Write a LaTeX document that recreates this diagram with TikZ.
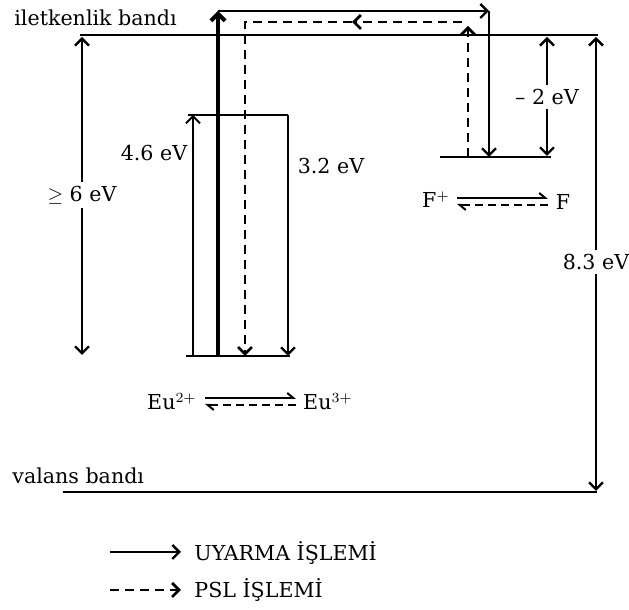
\documentclass[tikz,border=0pt]{standalone}
\usepackage{fontspec}
\setmainfont{DejaVu Serif}
\usetikzlibrary{arrows.meta,calc}

\begin{document}
\begin{tikzpicture}[x=0.5pt,y=-0.5pt,>={Straight Barb[length=3.5pt,width=7pt]},
		band/.style={line width=1.2pt},
		lvl/.style={line width=1.2pt},
		exc/.style={->,line width=1.2pt},
		psl/.style={->,line width=1.4pt,dash pattern=on 4.5pt off 3pt},
		lbl/.style={font=\fontsize{10.3}{12}\selectfont,inner sep=1pt},
		gap/.style={lbl,fill=white,inner sep=2pt},
		harp/.style={line width=1pt,-{Straight Barb[left,length=3pt,width=5pt]}}]
		\useasboundingbox (0,0) rectangle (629,610);
		% bands
		\coordinate (cbL) at (80,35);   \coordinate (cbR) at (598,35);
		\coordinate (vbL) at (63,492);  \coordinate (vbR) at (597,492);
		\draw[band] (cbL) -- (cbR);
		\draw[band] (vbL) -- (vbR);
		\node[lbl,anchor=west] (cbtxt) at (12,18) {iletkenlik bandı};
		\node[lbl,anchor=west] (vbtxt) at (10,476) {valans bandı};
		% Eu levels
		\coordinate (euTL) at (188,115); \coordinate (euTR) at (288,115);
		\coordinate (euBL) at (186,356); \coordinate (euBR) at (290,356);
		\draw[lvl] (euTL) -- (euTR);
		\draw[lvl] (euBL) -- (euBR);
		% F level
		\coordinate (fL) at (440,157); \coordinate (fR) at (551,157);
		\draw[lvl] (fL) -- (fR);
		% excitation
		\coordinate (a0) at (193,356); \coordinate (a1) at (193,115);
		\draw[exc,line width=0.9pt] (a0) -- (a1);
		\node[lbl] (e46) at (154,153) {4.6 eV};
		\coordinate (u0) at (218,356); \coordinate (u1) at (218,11);
		\coordinate (u2) at (489,11);  \coordinate (u3) at (489,157);
		\draw[exc,line width=2pt] (u0) -- (u1);
		\draw[exc] (u1) -- (u2);
		\draw[exc] (u2) -- (u3);
		\coordinate (r0) at (288,115); \coordinate (r1) at (288,356);
		\draw[exc] (r0) -- (r1);
		\node[lbl] (e32) at (331,166) {3.2 eV};
		% PSL
		\coordinate (p0) at (468,157); \coordinate (p1) at (468,26);
		\coordinate (p2) at (462,22);  \coordinate (p3) at (245,22);
		\coordinate (p4) at (245,356); \coordinate (pm) at (352,22);
		\draw[psl] (p0) -- (p1);
		\draw[psl] (p2) -- (pm);
		\draw[psl] (pm) -- (p3) -- (p4);
		% gaps
		\coordinate (g6a) at (82,37);  \coordinate (g6b) at (82,355);
		\node[gap] (e6) at (82,195) {$\geq$ 6 eV};
		\draw[->,line width=1.2pt] (e6) -- (g6a);
		\draw[->,line width=1.2pt] (e6) -- (g6b);
		\coordinate (g2a) at (547,37); \coordinate (g2b) at (547,156);
		\node[gap] (e2) at (547,97) {-- 2 eV};
		\draw[->,line width=1.2pt] (e2) -- (g2a);
		\draw[->,line width=1.2pt] (e2) -- (g2b);
		\coordinate (g8a) at (596,37); \coordinate (g8b) at (596,491);
		\node[gap] (e83) at (596,262) {8.3 eV};
		\draw[->,line width=1.2pt] (e83) -- (g8a);
		\draw[->,line width=1.2pt] (e83) -- (g8b);
		% equilibria
		\node[lbl] (eu2) at (172,402) {Eu$^{2+}$};
		\node[lbl] (eu3) at (328,402) {Eu$^{3+}$};
		\coordinate (q0) at (205,398); \coordinate (q1) at (296,398);
		\coordinate (q2) at (296,405); \coordinate (q3) at (205,405);
		\draw[harp] (q0) -- (q1);
		\draw[harp,dash pattern=on 4pt off 2.5pt] (q2) -- (q3);
		\node[lbl] (fp) at (436,200) {F$^{+}$};
		\node[lbl] (fn) at (563,202) {F};
		\coordinate (s0) at (457,198); \coordinate (s1) at (548,198);
		\coordinate (s2) at (548,205); \coordinate (s3) at (457,205);
		\draw[harp] (s0) -- (s1);
		\draw[harp,dash pattern=on 4pt off 2.5pt] (s2) -- (s3);
		% legend
		\coordinate (l0) at (110,552); \coordinate (l1) at (181,552);
		\coordinate (l2) at (110,590); \coordinate (l3) at (181,590);
		\draw[exc] (l0) -- (l1);
		\draw[psl] (l2) -- (l3);
		\node[lbl,anchor=west] (leg1) at (192,553) {UYARMA İŞLEMİ};
		\node[lbl,anchor=west] (leg2) at (192,590) {PSL İŞLEMİ};
	\end{tikzpicture}
\end{document}
